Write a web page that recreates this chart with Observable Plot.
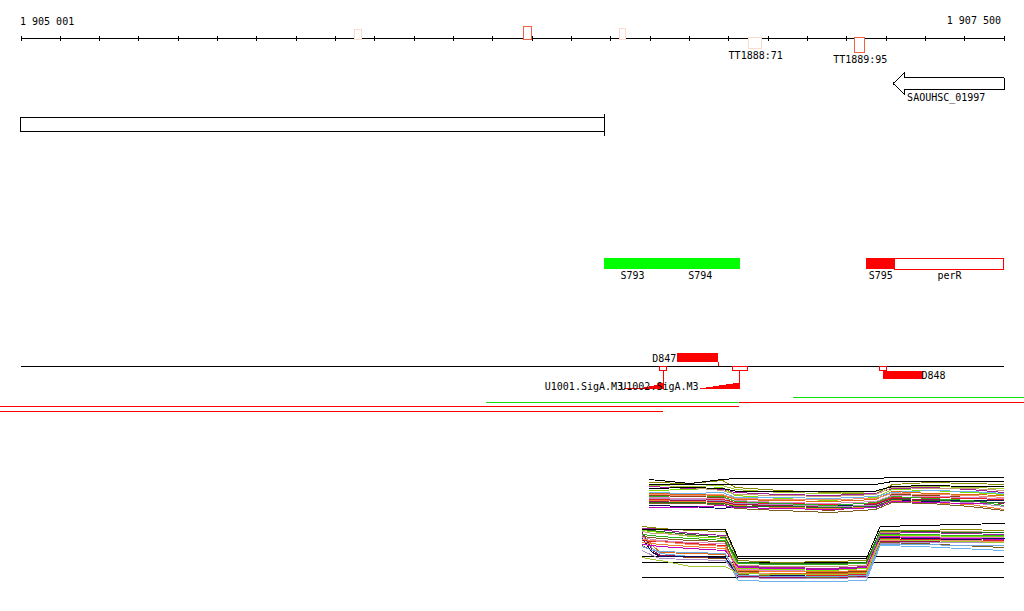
<!DOCTYPE html>
<html><head><meta charset="utf-8">
<script src="https://cdn.jsdelivr.net/npm/d3@7"></script>
<script src="https://cdn.jsdelivr.net/npm/@observablehq/plot@0.6"></script>
<style>
html,body{margin:0;padding:0;background:#fff;}
#wrap{position:relative;width:1024px;height:611px;overflow:hidden;background:#fff;}
#wrap>svg{position:absolute;left:0;}
#wrap svg rect,#wrap svg line,#wrap svg path{shape-rendering:crispEdges;}
</style></head>
<body><div id="wrap"></div>
<script>
// ---------- DATA ----------
const axisStart = 1905001, axisEnd = 1907501;
const axisLabels = ["1 905 001", "1 907 500"];
const tickStep = 100;

// terminators
const termStart = [1905850, 1906279, 1906525, 1906853, 1907123];
const termEnd   = [1905868, 1906301, 1906540, 1906886, 1907148];
const termStrand = ["+", "+", "+", "-", "-"];
const termScore = [70, 83, 76, 71, 95];
const termName = ["", "", "", "TT1888:71", "TT1889:95"];

// annotated genes
const blockStart = 1905001, blockEnd = 1906485;
const geneName = ["SAOUHSC_01997"];
const geneStart = [1907219];
const geneEnd = [1907501];

// segments
const segName = ["S793", "S794", "S795", "perR"];
const segStart = [1906485, 1906627, 1907151, 1907224];
const segEnd = [1906627, 1906830, 1907224, 1907501];
const segKind = ["up", "up", "down", "gene"];

// TSS / promoters
const dName = ["D847", "D848"];
const dStart = [1906670, 1907194];
const dEnd = [1906774, 1907296];
const dStrand = ["+", "-"];
const siteStart = [1906627, 1906812, 1907186];
const siteEnd = [1906645, 1906851, 1907204];
const motifName = ["U1001.SigA.M3", "U1002.SigA.M3"];
const motifStart = [1906536, 1906728];
const motifEnd = [1906636, 1906829];
const motifProfile = [
  [0.7, 0.7, 0.7, 1.3, 2, 3, 4.3, 5.7],
  [0.7, 1.7, 2.7, 4, 5, 6.3]
];

// transcript coverage segments
const covStart = [1906185, 1906828, 1906965, 1904949, 1904949];
const covEnd   = [1906828, 1907552, 1907552, 1906828, 1906635];
const covStrand = ["+", "-", "+", "-", "-"];
const covRow = [1, 1, 0, 2, 3];

// expression profiles, top panel
const topPos = [1906599, 1906703, 1906785, 1906818, 1906932, 1907059, 1907174, 1907217, 1907313, 1907415, 1907501];
const topBlack = [
  [9.5, 8.5, 9.5, 9.75, 9.75, 9.75, 9.75, 10, 10, 10, 10],
  [8.25, 8.25, 8.25, 8.25, 8.25, 8.25, 8.25, 9, 9, 9, 9],
  [7.25, 7.5, 7.25, 6.6, 6.6, 6.6, 6.6, 7.75, 8, 7.75, 7.75]
];
const topValues = [
  [8.75, 8.5, 9.25, 7.5, 6.75, 6.25, 5.75, 8.25, 8.75, 8.5, 8.25],
  [7.75, 7.25, 7, 6.25, 5.75, 5.5, 6, 7.25, 7.5, 7, 6.25],
  [6.75, 7, 7.5, 5.5, 4.75, 4.25, 5, 7, 6.75, 6.25, 5.75],
  [6, 5.75, 5.5, 4.5, 4.25, 4, 4.5, 6.5, 6, 5.75, 5.5],
  [5.5, 5.25, 5, 3.5, 2.5, 1.75, 3, 5.75, 5.5, 5, 4.25],
  [6.25, 6, 6.25, 5, 5, 4.75, 5.25, 6.25, 6.75, 6.5, 6],
  [5, 4.75, 4.75, 4.25, 3.75, 3.5, 4, 5.5, 5.25, 5, 4.75],
  [4.5, 4.25, 4.5, 3.75, 3.5, 3.25, 3.5, 5, 5, 4.75, 4.5],
  [4, 4.25, 4, 3.25, 3, 2.75, 3.25, 4.75, 4.5, 4.25, 3.5],
  [3, 2.75, 2.25, 2.75, 2.75, 3, 3, 4.25, 4, 4.25, 4.25],
  [7.25, 7.5, 6.75, 5.75, 5.5, 5.25, 5.75, 7.5, 7.25, 7.25, 6.75],
  [5.25, 5.5, 5.25, 4, 3.5, 3, 3.75, 5.25, 4.75, 4.25, 3],
  [4.75, 4.5, 4.25, 3.5, 3.25, 2.75, 3, 4.5, 4.25, 3.75, 2.75],
  [4.25, 4, 3.75, 3, 2.5, 2.25, 2.75, 4.25, 3.75, 3.25, 2],
  [3.5, 3.5, 3.25, 2.25, 1.75, 1.25, 2, 3.75, 3.5, 2.75, 1.75],
  [2.5, 2.5, 3, 2.5, 2.25, 2, 2.5, 4, 3.75, 3.5, 3.75],
  [5.75, 5.5, 5.75, 4.75, 4.5, 4.5, 4.75, 6, 5.75, 5.5, 5],
  [3.75, 3.75, 3.5, 2.75, 2.75, 2.5, 2.75, 4.5, 4.25, 4, 3.75],
  [8, 7.75, 8, 7, 6.25, 6, 6.5, 7.75, 7.75, 7.5, 7.25]
];

// expression profiles, bottom panel
const botPos = [1906581, 1906607, 1906627, 1906703, 1906792, 1906825, 1906932, 1907059, 1907151, 1907186, 1907288, 1907390, 1907501];
const botRefs = [6.1, 4.4, 0.7];
const botBlack = [
  [12.75, 12.75, 12.75, 12.75, 12.75, 5.5, 5.5, 5.5, 5.5, 13.5, 13.75, 14, 14.25]
];
const botValues = [
  [13.5, 13.25, 13, 12.5, 12.25, 5, 4.5, 4.75, 5, 12.25, 12.5, 12.75, 12.5],
  [13, 13, 12.75, 11.75, 11.25, 3.5, 3.25, 3, 3.5, 11.75, 12, 11.75, 11.5],
  [12.5, 12.25, 12, 11, 10.5, 3, 2.75, 2.5, 3, 11.25, 11.25, 11, 11],
  [11.75, 8.75, 7, 6.75, 6.5, 2, 1.75, 1.75, 2, 10.5, 10.75, 10.75, 10.5],
  [8.75, 7.5, 6.25, 5.75, 5.5, 2.25, 2.25, 2, 2.25, 10, 10.25, 10.5, 10.5],
  [11.25, 8, 6.75, 6, 5.75, 0, -0.25, -0.25, 0, 8.75, 8.5, 8, 7.5],
  [10.75, 10.25, 10, 9.5, 9.25, 2.75, 2.5, 2.25, 2.5, 11, 11, 10.75, 10.75],
  [10, 9.75, 9.75, 9.25, 8.75, 1.75, 1.5, 1.25, 1.5, 10.5, 10.25, 10.25, 10],
  [12, 7.5, 6.25, 6, 5.75, 1, 0.75, 0.75, 1, 9.75, 9.75, 10, 9.75],
  [10.5, 7, 6, 6, 5.75, 1.25, 1.25, 1, 1.25, 10.75, 10.5, 10.25, 10.5],
  [12.25, 11.75, 11.75, 11.25, 11, 3.75, 3.5, 3.5, 3.75, 12, 12.25, 12.25, 12],
  [11.5, 11.25, 11, 10.5, 10, 4.25, 4, 4, 4.25, 11.5, 11.5, 11.25, 11.25],
  [7.5, 6.25, 5.5, 5.25, 5, 0.75, 0.5, 0.5, 0.75, 9.25, 9.5, 9.5, 9.5],
  [9.5, 9.25, 9, 8.5, 8, 2.5, 2.25, 2.25, 2.5, 10.25, 10, 9.75, 9.75],
  [11, 10.75, 10.5, 10, 9.75, 1.5, 1, 0.75, 1.25, 9.5, 9.25, 8.75, 8.25],
  [9, 8.75, 8.5, 8, 7.5, 3.25, 3, 2.75, 3.25, 11, 10.75, 10.5, 10.25],
  [10.25, 10, 9.75, 9, 8.5, 2, 1.5, 1.5, 1.75, 10, 10, 10, 9.75],
  [12.75, 12.5, 12.25, 11.5, 10.75, 4.5, 4.25, 4.25, 4.5, 12.5, 12.25, 12, 12],
  [5.75, 5.25, 5, 3.5, 3.5, 1.75, 1.5, 1.5, 1.75, 10.25, 10, 9.75, 9.5],
  [8.5, 7.5, 7.25, 7, 6.75, 1.25, 1, 1, 1.25, 9, 9, 8.75, 8.75]
];

// palette (styles)
const seriesColors = ["#8b8b00", "#a0209a", "#80e000", "#e06a10", "#8b4513", "#6cb4f0", "#e088c8",
  "#e02424", "#a01050", "#101060", "#c8a078", "#30b020", "#b090c8", "#f08030", "#806020",
  "#c000c0", "#f09070", "#207020", "#a0c830", "#70a8e0", "#c02040"];

// ---------- LAYOUT ----------
const RED = "#ff0000", GREEN = "#00ff00", LGREEN = "#10e010";
const FONT = "DejaVu Sans Mono";
const wrap = document.getElementById("wrap");
const xScale = {domain: [axisStart, axisEnd], range: [20.5, 1003.5]};
const yScale = {domain: [0, 611], range: [0, 611]};
const AXIS_Y = 38;

const ticks = d3.range(axisStart, axisEnd + 1, tickStep);
const terms = termStart.map((s, i) => ({start: s, end: termEnd[i], strand: termStrand[i], score: termScore[i], name: termName[i]}));
const termH = d => 10 + (d.score - 70) * 4 / 25;
const tY1 = d => d.strand === "+" ? AXIS_Y + 1 - termH(d) : AXIS_Y - 0.5;
const tY2 = d => d.strand === "+" ? AXIS_Y + 1 : AXIS_Y + termH(d);

const HEAD = 30;
const arrowPts = geneStart.flatMap((s, i) => {
  const e = geneEnd[i];
  return [[s, 83], [s + HEAD, 72], [s + HEAD, 77], [e, 77], [e, 89], [s + HEAD, 89], [s + HEAD, 94], [s, 83]]
    .map(([x, y]) => ({x, y, g: i}));
});
const genes = geneStart.map((s, i) => ({start: s, end: geneEnd[i], name: geneName[i]}));

const segs = segName.map((n, i) => ({name: n, start: segStart[i], end: segEnd[i], kind: segKind[i]}));
const dfeat = dName.map((n, i) => ({name: n, start: dStart[i], end: dEnd[i], strand: dStrand[i]}));
const sites = siteStart.map((s, i) => ({start: s, end: siteEnd[i]}));
const motifs = motifName.map((n, i) => ({name: n, start: motifStart[i], end: motifEnd[i]}));
const motifPts = motifProfile.flatMap((p, i) => {
  const s = motifStart[i], e = motifEnd[i], n = p.length;
  const pts = p.map((h, j) => ({m: i, x: s + (e - s) * j / n, h}));
  pts.push({m: i, x: e, h: p[n - 1]});
  return pts;
});
const MOTIF_BASE = 389;
const covs = covStart.map((s, i) => ({start: s, end: covEnd[i], strand: covStrand[i], row: covRow[i]}));
const covY = d => 397 + Math.round(d.row * 4.7);

const main = Plot.plot({
  width: 1024, height: 611,
  marginTop: 0, marginRight: 0, marginBottom: 0, marginLeft: 0,
  x: {...xScale, axis: null},
  y: {...yScale, axis: null},
  color: {type: "threshold", domain: [80], range: ["#fbdccc", "#f2603f"]},
  style: {fontFamily: FONT, fontSize: "10px", background: "white", color: "black"},
  marks: [
    // axis
    Plot.ruleY([AXIS_Y], {x1: () => axisStart, x2: () => axisEnd, stroke: "black", strokeWidth: 1}),
    Plot.ruleX(ticks, {y1: AXIS_Y - 2, y2: AXIS_Y + 3, stroke: "black", strokeWidth: 1}),
    Plot.text([axisLabels[0]], {x: () => axisStart, y: () => 24, text: d => d, textAnchor: "start", lineAnchor: "bottom", dx: -1}),
    Plot.text([axisLabels[1]], {x: () => axisEnd, y: () => 23, text: d => d, textAnchor: "end", lineAnchor: "bottom", dx: -3}),
    // terminators
    Plot.rect(terms, {x1: "start", x2: "end", y1: tY1, y2: tY2, fill: "white", stroke: "score", strokeWidth: 1}),
    Plot.text(terms.filter(d => d.name), {x: d => (d.start + d.end) / 2, y: d => tY2(d) + 10, text: "name", textAnchor: "middle", lineAnchor: "bottom"}),
    // gene arrow
    Plot.line(arrowPts, {x: "x", y: "y", z: "g", stroke: "black", fill: "white", strokeWidth: 1, curve: "linear"}),
    Plot.text(genes, {x: "start", y: () => 100, text: "name", textAnchor: "start", lineAnchor: "bottom", dx: 14}),
    // large block
    Plot.rect([0], {x1: () => blockStart, x2: () => blockEnd, y1: () => 117, y2: () => 131, fill: "none", stroke: "black", strokeWidth: 1}),
    Plot.ruleX([blockEnd], {y1: 114, y2: 136, stroke: "black", strokeWidth: 1}),
    // segments
    Plot.rect(segs.filter(d => d.kind === "up"), {x1: "start", x2: "end", y1: () => 258, y2: () => 269, fill: GREEN}),
    Plot.rect(segs.filter(d => d.kind === "down"), {x1: "start", x2: "end", y1: () => 258, y2: () => 269, fill: RED}),
    Plot.rect(segs.filter(d => d.kind === "gene"), {x1: "start", x2: "end", y1: () => 258, y2: () => 269, fill: "white", stroke: RED, strokeWidth: 1}),
    Plot.text(segs, {x: d => (d.start + d.end) / 2, y: () => 278, text: "name", textAnchor: "middle", lineAnchor: "bottom"}),
    // TSS track
    Plot.ruleY([366], {x1: () => axisStart, x2: () => axisEnd, stroke: "black", strokeWidth: 1}),
    Plot.rect(dfeat, {x1: "start", x2: "end", y1: d => d.strand === "+" ? 353 : 371, y2: d => d.strand === "+" ? 362 : 379, fill: RED}),
    Plot.ruleX(dfeat.filter(d => d.strand === "+"), {x: "end", y1: () => 362, y2: () => 366, stroke: RED, strokeWidth: 1}),
    Plot.text(dfeat.filter(d => d.strand === "+"), {x: "start", y: () => 361, text: "name", textAnchor: "end", lineAnchor: "bottom", dx: -1}),
    Plot.text(dfeat.filter(d => d.strand === "-"), {x: "end", y: () => 378, text: "name", textAnchor: "start", lineAnchor: "bottom", dx: -2}),
    Plot.areaY(motifPts, {x: "x", y1: () => MOTIF_BASE, y2: d => MOTIF_BASE - d.h, z: "m", curve: "step-after", fill: RED}),
    Plot.ruleX(motifs, {x: "end", y1: () => 370, y2: () => MOTIF_BASE, stroke: RED, strokeWidth: 1}),
    Plot.rect(sites, {x1: "start", x2: "end", y1: () => 366, y2: () => 370, fill: "white", stroke: RED, strokeWidth: 1}),
    Plot.text(motifs, {x: "start", y: () => MOTIF_BASE, text: "name", textAnchor: "end", lineAnchor: "bottom", dx: -1.5}),
    // coverage
    Plot.ruleY(covs.filter(d => d.strand === "+"), {y: covY, x1: "start", x2: "end", stroke: LGREEN, strokeWidth: 1}),
    Plot.ruleY(covs.filter(d => d.strand === "-"), {y: covY, x1: "start", x2: "end", stroke: RED, strokeWidth: 1})
  ]
});
main.style.top = "0px";
wrap.appendChild(main);

function exprPanel(pos, values, blacks, refs, top, h, vmax, yRange) {
  const rows = values.flatMap((vals, i) => vals.map((v, j) => ({x: pos[j], v, s: i, c: seriesColors[i % seriesColors.length]})));
  const brows = blacks.flatMap((vals, i) => vals.map((v, j) => ({x: pos[j], v, s: i})));
  const p = Plot.plot({
    width: 1024, height: h,
    marginTop: 0, marginRight: 0, marginBottom: 0, marginLeft: 0,
    x: {...xScale, axis: null},
    y: {domain: [0, vmax], range: yRange, axis: null},
    color: {type: "identity"},
    style: {background: "none"},
    marks: [
      Plot.ruleY(refs, {x1: () => pos[0], x2: () => pos[pos.length - 1], stroke: "black", strokeWidth: 1}),
      Plot.line(rows, {x: "x", y: "v", z: "s", stroke: "c", strokeWidth: 1}),
      Plot.line(brows, {x: "x", y: "v", z: "s", stroke: "black", strokeWidth: 1})
    ]
  });
  p.style.top = top + "px";
  wrap.appendChild(p);
}
exprPanel(topPos, topValues, topBlack, [], 470, 50, 10, [47, 7]);
exprPanel(botPos, botValues, botBlack, botRefs, 518, 66, 15, [62, 2]);
</script>
</body></html>
